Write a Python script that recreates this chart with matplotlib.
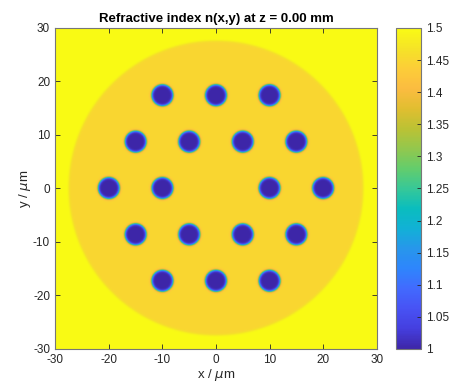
import numpy as np
import matplotlib.pyplot as plt
from matplotlib.colors import LinearSegmentedColormap

plt.rcParams['font.family'] = ['Liberation Sans', 'DejaVu Sans']
plt.rcParams['axes.unicode_minus'] = False

# structure (µm)
hole_x = [-10, 0, 10, -15, -5, 5, 15, -20, -10, 10, 20, -15, -5, 5, 15, -10, 0, 10]
hole_y = [17.32, 17.32, 17.32, 8.66, 8.66, 8.66, 8.66, 0, 0, 0, 0,
          -8.66, -8.66, -8.66, -8.66, -17.32, -17.32, -17.32]
hole_r = 2.0
clad_r = 27.5
n_background = 1.5
n_clad = 1.45
n_hole = 1.0
cbar_ticks = [1, 1.05, 1.1, 1.15, 1.2, 1.25, 1.3, 1.35, 1.4, 1.45, 1.5]
axis_ticks = [-30, -20, -10, 0, 10, 20, 30]

parula_pts = [
    (0.2422, 0.1504, 0.6603), (0.2691, 0.2464, 0.8758), (0.2810, 0.3228, 0.9579),
    (0.2586, 0.4161, 0.9966), (0.1802, 0.5231, 0.9888), (0.1540, 0.5902, 0.9218),
    (0.0689, 0.6948, 0.8394), (0.0384, 0.7406, 0.7453), (0.2161, 0.7843, 0.5923),
    (0.3909, 0.8033, 0.4225), (0.5770, 0.7809, 0.3021), (0.7357, 0.7611, 0.2032),
    (0.8828, 0.7453, 0.1880), (0.9856, 0.7372, 0.2537), (0.9882, 0.8049, 0.2192),
    (0.9622, 0.8910, 0.1530), (0.9769, 0.9839, 0.0805),
]
parula = LinearSegmentedColormap.from_list('parula', parula_pts, N=256)


def smooth_step(d, w=0.25):
    return 0.5 * (1 + np.tanh(d / w))


x = np.linspace(-30, 30, 500)
y = np.linspace(-30, 30, 500)
X, Y = np.meshgrid(x, y)

inside_clad = smooth_step(clad_r - np.hypot(X, Y))
n = n_background + (n_clad - n_background) * inside_clad
for hx, hy in zip(hole_x, hole_y):
    inside = smooth_step(hole_r - np.hypot(X - hx, Y - hy))
    n = n + (n_hole - n) * inside

fig = plt.figure(figsize=(4.58, 3.92), dpi=100)
ax = fig.add_axes([0.120, 0.1097, 0.703, 0.819])
cax = fig.add_axes([0.865, 0.1097, 0.0546, 0.819])

im = ax.imshow(n, extent=[-30, 30, -30, 30], origin='lower', cmap=parula,
               vmin=1.0, vmax=1.5, aspect='auto', interpolation='bilinear')

ax.set_xlim(-30, 30)
ax.set_ylim(-30, 30)
ax.set_xticks(axis_ticks)
ax.set_yticks(axis_ticks)
ax.tick_params(direction='in', top=True, right=True, labelsize=8.5,
               colors='#262626', length=3.5, width=0.6)
for sp in ax.spines.values():
    sp.set_color('#777777')
    sp.set_linewidth(0.8)
ax.set_xlabel('x / $\\mu$m', fontsize=9.5, color='#262626', labelpad=1)
ax.set_ylabel('y / $\\mu$m', fontsize=9.5, color='#262626', labelpad=0)
ax.set_title('Refractive index n(x,y) at z = 0.00 mm', fontsize=9.5,
             fontweight='bold', pad=4)

cb = fig.colorbar(im, cax=cax, ticks=cbar_ticks)
cb.ax.set_yticklabels(['%g' % t for t in cbar_ticks])
cb.ax.tick_params(direction='in', labelsize=8.5, colors='#262626',
                  length=3, width=0.6)
cb.outline.set_edgecolor('#777777')
cb.outline.set_linewidth(0.8)

fig.savefig('out.png', dpi=100)
